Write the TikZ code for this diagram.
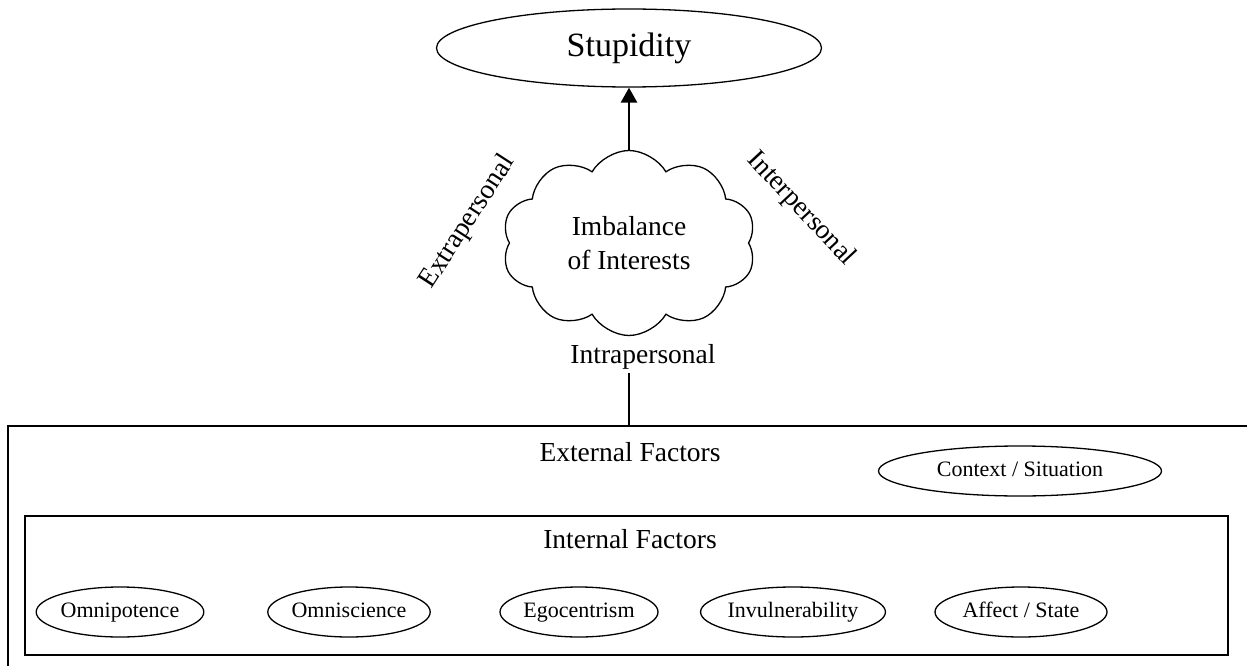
\documentclass[tikz,border=0pt]{standalone}
\usepackage{fontspec}
\setmainfont{Liberation Serif}
\usetikzlibrary{positioning, shapes, arrows.meta}

\begin{document}
\begin{tikzpicture}[
            x=1pt, y=-1pt, % one unit is one pixel of the layout
            factor/.style={ellipse, draw, line width=1.3pt, inner sep=0pt, minimum height=50pt, text height=15pt, text depth=4pt, font=\fontsize{22}{24}\selectfont},
            frame/.style={rectangle, draw, line width=1.3pt, inner sep=0pt},
            label/.style={font=\fontsize{27.5}{30}\selectfont},
            arrow/.style={line width=2.8pt, -{Triangle[length=15pt, width=16pt]}}, % thick arrow with head
            link/.style={line width=2.8pt}
        ]
        \useasboundingbox (0,0) rectangle (1247,666);
        \clip (0,0) rectangle (1247,666);

        % Top of the picture
        \node[ellipse, draw, line width=1.3pt, inner sep=0pt, minimum width=385pt, minimum height=78pt,
              font=\fontsize{34}{36}\selectfont] (stupid) at (629,48) {Stupidity};
        \node[cloud, draw, line width=1.3pt, cloud puffs=10, cloud puff arc=120, aspect=1.35,
              shape border uses incircle, shape border rotate=18, minimum width=254pt, minimum height=185pt,
              inner sep=0pt, align=center,
              font=\fontsize{27.5}{34}\selectfont] (imbalance) at (629,243) {Imbalance\\of Interests};

        % Labels round the cloud
        \node[label, rotate=57] (extra) at (468,222) {Extrapersonal};
        \node[label, rotate=-47] (inter) at (801,209) {Interpersonal};
        \node[label] (intra) at (643,357) {Intrapersonal};

        % Boxes
        \node[frame, minimum width=1252pt, minimum height=264pt] (external) at (634,558) {};
        \node[label] (extlabel) at (630,452) {External Factors};
        \node[factor, minimum width=283pt] (context) at (1020,471) {Context / Situation};
        \node[frame, minimum width=1203pt, minimum height=139pt] (internal) at (626.5,585.5) {};
        \node[label] (intlabel) at (630,539) {Internal Factors};

        % Internal factors
        \node[factor, minimum width=157pt] (omnipotence) at (120,612) {Omnipotence};
        \node[factor, minimum width=156pt] (omniscience) at (349,612) {Omniscience};
        \node[factor, minimum width=158pt] (egocentrism) at (579,612) {Egocentrism};
        \node[factor, minimum width=174pt] (invulnerability) at (793,612) {Invulnerability};
        \node[factor, minimum width=172pt] (affect) at (1021,612) {Affect / State};

        % Connections
        \draw[arrow] (imbalance.north) -- (stupid.south);
        \draw[link] (stupid.south |- intra.south) -- (stupid.south |- external.north);

        \end{tikzpicture}
\end{document}
